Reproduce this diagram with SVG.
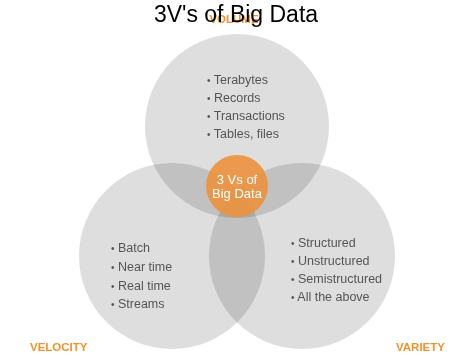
<svg xmlns="http://www.w3.org/2000/svg" width="472" height="358" viewBox="0 0 472 358">
<style>
.c{fill:#dedede;mix-blend-mode:multiply}
.t{font-family:"Liberation Sans",Arial,sans-serif;font-size:12.5px;fill:#555555}
.b{font-size:10px}
.lbl{font-family:"Liberation Sans",Arial,sans-serif;font-size:11.5px;font-weight:bold;fill:#f0922b}
.ct{font-family:"Liberation Sans",Arial,sans-serif;font-size:13px;fill:#ffffff;text-anchor:middle}
</style>
<rect width="472" height="358" fill="#ffffff"/>
<g id="circles" style="isolation:isolate">
<g id="volume"><circle class="c" cx="237" cy="126" r="92"/></g>
<g id="velocity"><circle class="c" cx="172" cy="256" r="93"/></g>
<g id="variety"><circle class="c" cx="302" cy="256" r="93"/></g>
</g>
<g id="center">
<circle cx="237" cy="186" r="31" fill="#ec9340" opacity="0.92"/>
<text class="ct" x="237" y="184">3 Vs of</text>
<text class="ct" x="237" y="198">Big Data</text>
</g>
<g id="volume-text" class="t">
<text x="207" y="84"><tspan class="b">•</tspan> Terabytes</text>
<text x="207" y="102"><tspan class="b">•</tspan> Records</text>
<text x="207" y="120"><tspan class="b">•</tspan> Transactions</text>
<text x="207" y="138"><tspan class="b">•</tspan> Tables, files</text>
</g>
<g id="velocity-text" class="t">
<text x="111" y="252"><tspan class="b">•</tspan> Batch</text>
<text x="111" y="271"><tspan class="b">•</tspan> Near time</text>
<text x="111" y="290"><tspan class="b">•</tspan> Real time</text>
<text x="111" y="308"><tspan class="b">•</tspan> Streams</text>
</g>
<g id="variety-text" class="t">
<text x="291" y="247"><tspan class="b">•</tspan> Structured</text>
<text x="291" y="265"><tspan class="b">•</tspan> Unstructured</text>
<text x="291" y="283"><tspan class="b">•</tspan> Semistructured</text>
<text x="291" y="301"><tspan class="b">•</tspan> All the above</text>
</g>
<g id="labels">
<text class="lbl" x="234" y="23" text-anchor="middle">VOLUME</text>
<text class="lbl" x="30" y="351">VELOCITY</text>
<text class="lbl" x="396" y="351">VARIETY</text>
</g>
<text x="236" y="22" font-family="'Liberation Sans',Arial,sans-serif" font-size="23" fill="#000000" text-anchor="middle">3V's of Big Data</text>
</svg>
